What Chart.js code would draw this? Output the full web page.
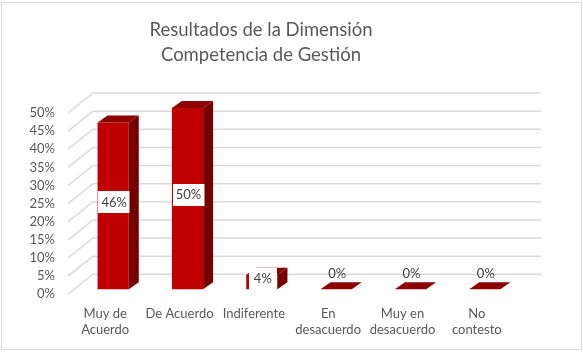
<!DOCTYPE html>
<html>
<head>
<meta charset="utf-8">
<script src="https://cdn.jsdelivr.net/npm/chart.js@4.4.1/dist/chart.umd.min.js"></script>
<style>
  html, body { margin:0; padding:0; background:#fff; }
  #wrap { position:relative; width:583px; height:352px; }
  #frame { position:absolute; left:1px; top:2px; width:579px; height:346px; border:1px solid #d9d9d9; pointer-events:none; }
</style>
</head>
<body>
<div id="wrap">
  <canvas id="chart" width="583" height="352"></canvas>
  <div id="frame"></div>
</div>
<script>
const categories = [["Muy de","Acuerdo"], ["De Acuerdo"], ["Indiferente"], ["En","desacuerdo"], ["Muy en","desacuerdo"], ["No","contesto"]];
const percentValues = [46, 50, 4, 0, 0, 0];
const yTicks = [0, 5, 10, 15, 20, 25, 30, 35, 40, 45, 50];
const chartTitle = ["Resultados de la Dimensión", "Competencia de Gestión"];

const FONT = "Lato, 'Open Sans', sans-serif";
const RED = "#c00000", TOP_RED = "#8e0000", SIDE_RED = "#760000";

// fake excel 3d: bars sit a bit back from the front, back wall further still
const barShift = { dx: 8, dy: -5 };
const barDepth = { dx: 10, dy: -7 };
const wallDepth = { dx: 25, dy: -20 };

const fake3d = {
  id: "fake3d",
  beforeDatasetsDraw(chart){
    const { ctx, chartArea, scales } = chart;
    ctx.save();
    // title, excel centres it a bit left of the plot
    ctx.font = "18.5px " + FONT;
    ctx.fillStyle = "#595959";
    ctx.textAlign = "center";
    ctx.textBaseline = "middle";
    chartTitle.forEach((line, i) => ctx.fillText(line, 261, 30 + i*25));
    // y labels at the front edge of the floor
    ctx.font = "13px " + FONT;
    ctx.textAlign = "right";
    yTicks.forEach(v => {
      ctx.fillText(v + "%", chartArea.left - 13, scales.y.getPixelForValue(v));
    });
    // gridlines: diagonal on the side, flat along the back wall
    ctx.strokeStyle = "#d9d9d9";
    ctx.lineWidth = 1.5;
    yTicks.forEach(v => {
      const y = scales.y.getPixelForValue(v);
      ctx.beginPath();
      ctx.moveTo(chartArea.left, y);
      ctx.lineTo(chartArea.left + wallDepth.dx, y + wallDepth.dy);
      ctx.lineTo(chartArea.right + wallDepth.dx + 2, y + wallDepth.dy);
      ctx.stroke();
    });
    ctx.restore();
    ctx.save();
    ctx.translate(barShift.dx, barShift.dy);
  },
  afterDatasetsDraw(chart){
    const { ctx } = chart;
    ctx.restore();
    const meta = chart.getDatasetMeta(0);

    meta.data.forEach(bar => {
      const { x, y, base, width } = bar.getProps(["x","y","base","width"], true);
      const l = x - width/2 + barShift.dx, r = x + width/2 + barShift.dx;
      const t = y + barShift.dy, b = base + barShift.dy;
      // side
      ctx.fillStyle = SIDE_RED;
      ctx.beginPath();
      ctx.moveTo(r, t); ctx.lineTo(r + barDepth.dx, t + barDepth.dy);
      ctx.lineTo(r + barDepth.dx, b + barDepth.dy); ctx.lineTo(r, b);
      ctx.closePath(); ctx.fill();
      // top
      ctx.fillStyle = TOP_RED;
      ctx.beginPath();
      ctx.moveTo(l, t); ctx.lineTo(l + barDepth.dx, t + barDepth.dy);
      ctx.lineTo(r + barDepth.dx, t + barDepth.dy); ctx.lineTo(r, t);
      ctx.closePath(); ctx.fill();
    });

    // data labels
    ctx.save();
    ctx.font = "13px " + FONT;
    ctx.textAlign = "center";
    ctx.textBaseline = "middle";
    meta.data.forEach((bar, i) => {
      const v = percentValues[i];
      const { x, y, base } = bar.getProps(["x","y","base"], true);
      const txt = v + "%";
      const cx = x + barShift.dx + 1;
      let cy;
      if(v > 0){
        cy = (y + base)/2 + barShift.dy + barDepth.dy/2;
        const w = Math.max(ctx.measureText(txt).width + 6, 28), h = 22;
        ctx.fillStyle = "#fff";
        ctx.fillRect(Math.round(cx - w/2), Math.round(cy - h/2), w, h);
      } else {
        cy = base + barShift.dy - 15;
      }
      ctx.fillStyle = "#404040";
      ctx.fillText(txt, cx, cy);
    });
    ctx.restore();
  }
};

new Chart(document.getElementById("chart"), {
  type: "bar",
  data: {
    labels: categories,
    datasets: [{
      data: percentValues,
      backgroundColor: RED,
      borderWidth: 0,
      categoryPercentage: 1,
      barPercentage: 0.42,
      clip: false
    }]
  },
  options: {
    responsive: false,
    animation: false,
    layout: { padding: { left: 68, right: 69, top: 113, bottom: 2 } },
    plugins: {
      legend: { display: false },
      tooltip: { enabled: false },
      title: { display: false }
    },
    scales: {
      x: {
        grid: { display: false, drawTicks: false },
        border: { display: false },
        ticks: {
          color: "#595959",
          font: { family: FONT, size: 13, lineHeight: 1.22 },
          padding: 12,
          maxRotation: 0,
          autoSkip: false
        }
      },
      y: {
        min: 0,
        max: 50,
        grid: { display: false, drawTicks: false },
        border: { display: false },
        ticks: { display: false, stepSize: 5 }
      }
    }
  },
  plugins: [fake3d]
});
</script>
</body>
</html>
